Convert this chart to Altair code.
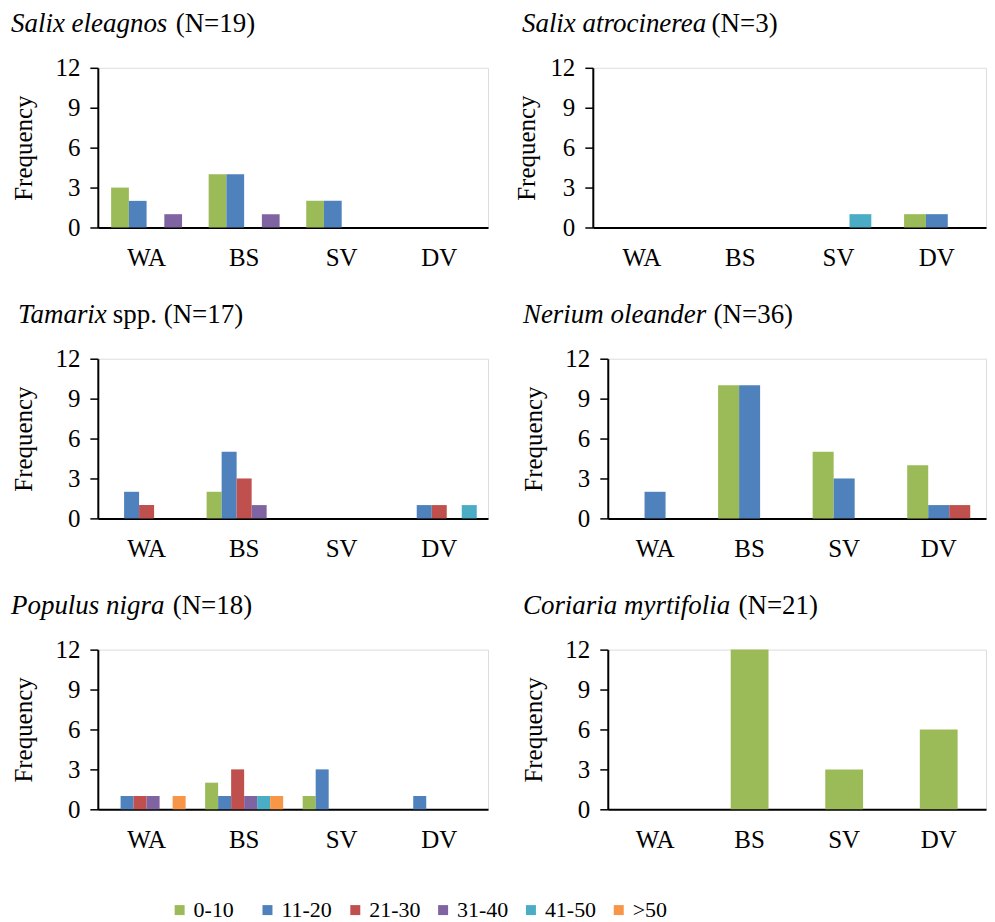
import altair as alt
import pandas as pd

FONT = "Liberation Serif"

classes = ["0-10", "11-20", "21-30", "31-40", "41-50", ">50"]
class_colors = ["#9BBB59", "#4F81BD", "#C0504D", "#8064A2", "#4BACC6", "#F79646"]
sites = ["WA", "BS", "SV", "DV"]

# values per class (rows) and site (columns WA, BS, SV, DV)
salix_eleagnos_classes = ["0-10", "11-20", "21-30", "31-40"]
salix_eleagnos_values = [[3, 4, 2, 0], [2, 4, 2, 0], [0, 0, 0, 0], [1, 1, 0, 0]]

salix_atrocinerea_classes = ["0-10", "11-20", "41-50"]
salix_atrocinerea_values = [[0, 0, 0, 1], [0, 0, 0, 1], [0, 0, 1, 0]]

tamarix_classes = ["0-10", "11-20", "21-30", "31-40", "41-50"]
tamarix_values = [[0, 2, 0, 0], [2, 5, 0, 1], [1, 3, 0, 1], [0, 1, 0, 0], [0, 0, 0, 1]]

nerium_classes = ["0-10", "11-20", "21-30"]
nerium_values = [[0, 10, 5, 4], [2, 10, 3, 1], [0, 0, 0, 1]]

populus_classes = ["0-10", "11-20", "21-30", "31-40", "41-50", ">50"]
populus_values = [[0, 2, 1, 0], [1, 1, 3, 1], [1, 3, 0, 0], [1, 1, 0, 0], [0, 1, 0, 0], [1, 1, 0, 0]]

coriaria_classes = ["0-10"]
coriaria_values = [[0, 12, 3, 6]]

titles_italic = ["Salix eleagnos", "Salix atrocinerea", "Tamarix", "Nerium oleander", "Populus nigra", "Coriaria myrtifolia"]
titles_plain = ["(N=19)", "(N=3)", "spp. (N=17)", "(N=36)", "(N=18)", "(N=21)"]

legend = alt.Legend(
    orient="none", legendX=71, legendY=833, direction="horizontal", columns=6,
    title=None, symbolType="square", symbolSize=100, symbolStrokeWidth=0,
    labelFont=FONT, labelFontSize=22, labelColor="black", labelOffset=3,
    columnPadding=11, gridAlign="all",
)

GAP = 1.5  # gap between category groups, in bar widths (Excel gap width 150%)

x_axis = alt.Axis(title=None, labelAngle=0, ticks=False, domainColor="black",
                  domainWidth=2, labelFont=FONT, labelFontSize=25,
                  labelColor="black", labelPadding=18)


def y_enc(title_pad):
    return alt.Y("freq:Q", scale=alt.Scale(domain=[0, 12]),
                 axis=alt.Axis(values=[0, 3, 6, 9, 12], title="Frequency", grid=False,
                               domainColor="black", domainWidth=2, tickColor="black",
                               tickWidth=1.5, tickSize=8, labelFont=FONT, labelFontSize=25,
                               labelColor="black", labelPadding=10, titleFont=FONT,
                               titleFontSize=25, titleFontWeight="normal", titleColor="black",
                               titlePadding=title_pad))


def panel(cls, vals, t_it, t_pl, width, it_x, pl_x, title_pad):
    rows = []
    for c, v in zip(cls, vals):
        for s, f in zip(sites, v):
            rows.append({"site": s, "cls": c, "freq": f})
    df = pd.DataFrame(rows)
    n = len(cls)
    pi_group = GAP / (n + GAP)
    # invisible base layer carrying the category axis (group centred in each category)
    base = alt.Chart(df).mark_bar(opacity=0).encode(
        x=alt.X("site:N", sort=sites,
                scale=alt.Scale(domain=sites, paddingInner=pi_group, paddingOuter=pi_group / 2),
                axis=x_axis),
        y=y_enc(title_pad),
    )
    layers = [base]
    pi_bar = (n + GAP - 1) / (n + GAP)
    for k, c in enumerate(cls):
        align = (GAP / 2 + k) / (n + GAP - 1)
        layers.append(
            alt.Chart(df).transform_filter(alt.datum.cls == c).mark_bar().encode(
                x=alt.X("site:N", sort=sites,
                        scale=alt.Scale(domain=sites, paddingInner=pi_bar,
                                        paddingOuter=pi_bar / 2, align=align),
                        axis=None),
                y=y_enc(title_pad),
                color=alt.Color("cls:N", scale=alt.Scale(domain=classes, range=class_colors),
                                legend=legend),
            )
        )
    tdf = pd.DataFrame([{"it": t_it, "pl": t_pl}])
    t1 = alt.Chart(tdf).mark_text(font=FONT, fontStyle="italic", fontSize=27, align="left",
                                  baseline="alphabetic", color="black").encode(
        x=alt.value(it_x), y=alt.value(-36), text="it:N")
    t2 = alt.Chart(tdf).mark_text(font=FONT, fontSize=27, align="left",
                                  baseline="alphabetic", color="black").encode(
        x=alt.value(pl_x), y=alt.value(-36), text="pl:N")
    layers += [t1, t2]
    return alt.layer(*layers).resolve_scale(x="independent").properties(width=width, height=160)


p1 = panel(salix_eleagnos_classes, salix_eleagnos_values, titles_italic[0], titles_plain[0], 391, -87, 78, 18)
p2 = panel(salix_atrocinerea_classes, salix_atrocinerea_values, titles_italic[1], titles_plain[1], 394, -71, 119, 10)
p3 = panel(tamarix_classes, tamarix_values, titles_italic[2], titles_plain[2], 391, -80, 15, 18)
p4 = panel(nerium_classes, nerium_values, titles_italic[3], titles_plain[3], 379, -85, 106, 18)
p5 = panel(populus_classes, populus_values, titles_italic[4], titles_plain[4], 391, -87, 75, 18)
p6 = panel(coriaria_classes, coriaria_values, titles_italic[5], titles_plain[5], 379, -85, 131, 18)

row1 = alt.hconcat(p1, p2, spacing=105, bounds="flush")
row2 = alt.hconcat(p3, p4, spacing=120, bounds="flush")
row3 = alt.hconcat(p5, p6, spacing=120, bounds="flush")

chart = alt.vconcat(row1, row2, row3, spacing=291.5, bounds="flush").properties(
    padding={"left": 2, "top": 0, "right": 0, "bottom": 0}
).configure_view(strokeWidth=0).configure(background="white")

chart.save("out.html", embed_options={"renderer": "svg", "actions": False})
